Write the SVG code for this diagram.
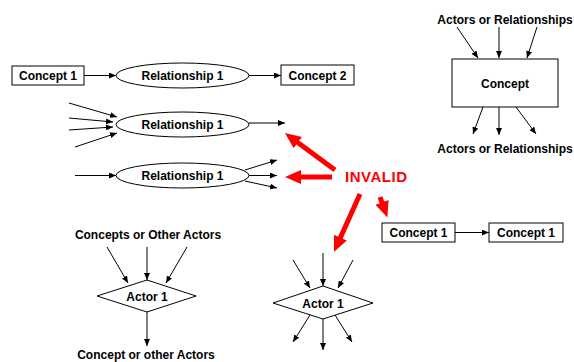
<svg xmlns="http://www.w3.org/2000/svg" width="574" height="362" viewBox="0 0 574 362">
  <style>
    .shape { fill: #fff; stroke: #000; stroke-width: 1; }
    .lbl { font-family: "Liberation Sans", Arial, sans-serif; font-weight: bold; font-size: 12px; fill: #000; text-anchor: middle; }
    .wire { stroke: #000; stroke-width: 1; fill: none; marker-end: url(#tip); }
    .red { stroke: #ff0000; stroke-width: 5; fill: none; marker-end: url(#redtip); }
    .warn { font-family: "Liberation Sans", Arial, sans-serif; font-weight: bold; font-size: 15px; fill: #ff0000; }
  </style>
  <defs>
    <marker id="tip" markerUnits="userSpaceOnUse" markerWidth="8" markerHeight="6" refX="7" refY="3" orient="auto">
      <path d="M0,0 L7,3 L0,6 z" fill="#000"/>
    </marker>
    <marker id="redtip" markerUnits="userSpaceOnUse" markerWidth="17" markerHeight="15" refX="6" refY="7" orient="auto">
      <path d="M0,0 L16,7 L0,14 z" fill="#ff0000"/>
    </marker>
  </defs>
  <rect width="574" height="362" fill="#fff"/>

  <!-- row 1: concept - relationship - concept -->
  <g id="concept-a">
    <rect class="shape" x="12" y="66" width="72" height="19"/>
    <text class="lbl" x="48" y="80">Concept 1</text>
  </g>
  <g id="rel-a">
    <ellipse class="shape" cx="182.5" cy="75.5" rx="66.5" ry="12.5"/>
    <text class="lbl" x="182.5" y="80">Relationship 1</text>
  </g>
  <g id="concept-b">
    <rect class="shape" x="281" y="65" width="73" height="20"/>
    <text class="lbl" x="317.5" y="80">Concept 2</text>
  </g>

  <!-- many inputs, one output -->
  <g id="rel-b">
    <ellipse class="shape" cx="182.5" cy="124.5" rx="66.5" ry="12.5"/>
    <text class="lbl" x="182.5" y="129">Relationship 1</text>
  </g>

  <!-- one input, many outputs -->
  <g id="rel-c">
    <ellipse class="shape" cx="182.5" cy="175.5" rx="66.5" ry="12.5"/>
    <text class="lbl" x="182.5" y="180">Relationship 1</text>
  </g>

  <!-- concept with many links -->
  <g id="concept-hub">
    <text class="lbl" x="505" y="24">Actors or Relationships</text>
    <rect class="shape" x="452" y="59" width="106" height="48"/>
    <text class="lbl" x="505" y="87.5">Concept</text>
    <text class="lbl" x="505" y="153">Actors or Relationships</text>
  </g>

  <!-- valid actor -->
  <g id="actor-a">
    <text class="lbl" x="148" y="239">Concepts or Other Actors</text>
    <polygon class="shape" points="97,296 147,280 196,296 147,312"/>
    <text class="lbl" x="147" y="300.5">Actor 1</text>
    <text class="lbl" x="146" y="359">Concept or other Actors</text>
  </g>

  <!-- actor with many links -->
  <g id="actor-b">
    <polygon class="shape" points="273,303 323,286 373,303 323,319"/>
    <text class="lbl" x="323" y="307.5">Actor 1</text>
  </g>

  <!-- concept to concept -->
  <g id="concept-c">
    <rect class="shape" x="382" y="223" width="73" height="19"/>
    <text class="lbl" x="418.5" y="237">Concept 1</text>
  </g>
  <g id="concept-d">
    <rect class="shape" x="489" y="223" width="74" height="19"/>
    <text class="lbl" x="526" y="237">Concept 1</text>
  </g>

  <g id="invalid">
    <text class="warn" x="345" y="182" textLength="62">INVALID</text>
  </g>

  <g id="connectors">
    <line class="wire" x1="84" y1="75.5" x2="116" y2="75.5"/>
    <line class="wire" x1="249" y1="75.5" x2="281" y2="75.5"/>

    <line class="wire" x1="69" y1="103" x2="117" y2="117"/>
    <line class="wire" x1="69" y1="118" x2="113" y2="122"/>
    <line class="wire" x1="69" y1="130" x2="113" y2="127"/>
    <line class="wire" x1="75" y1="147" x2="117" y2="133"/>
    <line class="wire" x1="249" y1="123" x2="285" y2="123"/>

    <line class="wire" x1="75" y1="175.5" x2="116" y2="175.5"/>
    <line class="wire" x1="245" y1="170" x2="277" y2="160"/>
    <line class="wire" x1="249" y1="175.5" x2="277" y2="175.5"/>
    <line class="wire" x1="245" y1="181" x2="277" y2="188"/>

    <line class="wire" x1="457" y1="27" x2="478" y2="58"/>
    <line class="wire" x1="499" y1="27" x2="499" y2="58"/>
    <line class="wire" x1="537" y1="27" x2="527" y2="58"/>
    <line class="wire" x1="483" y1="107" x2="473" y2="134"/>
    <line class="wire" x1="499" y1="107" x2="499" y2="135"/>
    <line class="wire" x1="516" y1="107" x2="536" y2="134"/>

    <line class="wire" x1="107" y1="247" x2="128" y2="283"/>
    <line class="wire" x1="147" y1="247" x2="147" y2="280"/>
    <line class="wire" x1="187" y1="247" x2="166" y2="283"/>
    <line class="wire" x1="147" y1="312" x2="147" y2="346"/>

    <line class="wire" x1="293" y1="260" x2="310" y2="288"/>
    <line class="wire" x1="323" y1="253" x2="323" y2="286"/>
    <line class="wire" x1="353" y1="260" x2="338" y2="288"/>
    <line class="wire" x1="310" y1="315" x2="293" y2="342"/>
    <line class="wire" x1="323" y1="319" x2="323" y2="350"/>
    <line class="wire" x1="335" y1="315" x2="352" y2="342"/>

    <line class="wire" x1="455" y1="232.5" x2="489" y2="232.5"/>

    <line class="red" x1="335" y1="170" x2="293" y2="139"/>
    <line class="red" x1="332" y1="177" x2="295" y2="177"/>
    <line class="red" x1="360" y1="194" x2="338" y2="243"/>
    <line class="red" x1="380" y1="197" x2="384" y2="208"/>
  </g>
</svg>
